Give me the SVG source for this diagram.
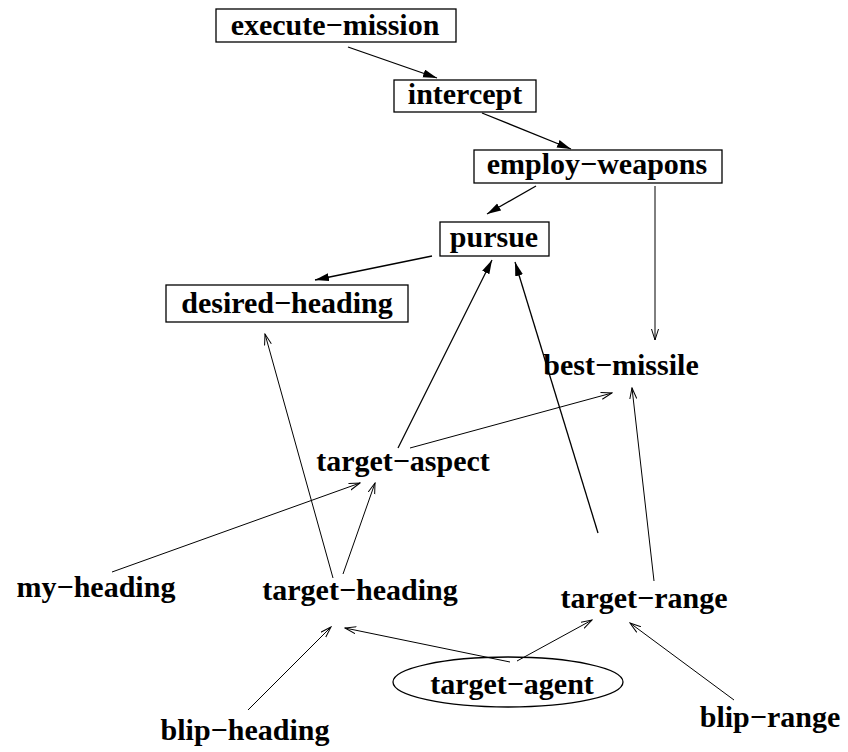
<svg xmlns="http://www.w3.org/2000/svg" width="848" height="752" viewBox="0 0 848 752">
<style>
text{font-family:"Liberation Serif","Times New Roman",serif;font-weight:bold;font-size:30px;text-anchor:middle;fill:#000}
.box{fill:#fff;stroke:#000;stroke-width:1.3}
.f{stroke:#000;stroke-width:1.3;fill:none;marker-end:url(#fa)}
.o{stroke:#000;stroke-width:1;fill:none;marker-end:url(#oa)}
</style>
<defs>
<marker id="fa" markerUnits="userSpaceOnUse" markerWidth="16" markerHeight="10" refX="14" refY="4" orient="auto">
<path d="M0,0 L14,4 L0,8 z" fill="#000"/>
</marker>
<marker id="oa" markerUnits="userSpaceOnUse" markerWidth="12" markerHeight="10" refX="11" refY="4" orient="auto">
<path d="M0,0.5 L11,4 L0,7.5" fill="none" stroke="#000" stroke-width="1"/>
</marker>
</defs>
<rect width="848" height="752" fill="#fff"/>
<g id="connectors">
<line class="f" x1="348" y1="47" x2="437" y2="78"/>
<line class="f" x1="482" y1="113" x2="571" y2="149"/>
<line class="f" x1="536" y1="186" x2="487" y2="214"/>
<line class="f" x1="432" y1="256" x2="315" y2="280"/>
<line class="o" x1="655" y1="186" x2="655" y2="340"/>
<line class="f" x1="398" y1="448" x2="492" y2="260"/>
<line class="f" x1="598" y1="533" x2="515" y2="262"/>
<line class="o" x1="333" y1="578" x2="265" y2="334"/>
<line class="o" x1="410" y1="448" x2="612" y2="393"/>
<line class="o" x1="112" y1="572" x2="360" y2="483"/>
<line class="o" x1="343" y1="574" x2="375" y2="483"/>
<line class="o" x1="654" y1="581" x2="632" y2="388"/>
<line class="o" x1="248" y1="710" x2="331" y2="627"/>
<line class="o" x1="510" y1="662" x2="345" y2="628"/>
<line class="o" x1="517" y1="661" x2="592" y2="620"/>
<line class="o" x1="734" y1="700" x2="630" y2="623"/>
</g>
<g id="execute-mission"><rect class="box" x="216" y="9" width="240" height="33"/><text x="335" y="35">execute−mission</text></g>
<g id="intercept"><rect class="box" x="394" y="80" width="142" height="32"/><text x="465" y="104">intercept</text></g>
<g id="employ-weapons"><rect class="box" x="474" y="150" width="248" height="33"/><text x="597" y="174">employ−weapons</text></g>
<g id="pursue"><rect class="box" x="440" y="222" width="109" height="34"/><text x="494" y="247">pursue</text></g>
<g id="desired-heading"><rect class="box" x="166" y="285" width="242" height="37"/><text x="287" y="313">desired−heading</text></g>
<g id="best-missile"><text x="621" y="375">best−missile</text></g>
<g id="target-aspect"><text x="403" y="471">target−aspect</text></g>
<g id="my-heading"><text x="96" y="597">my−heading</text></g>
<g id="target-heading"><text x="360" y="600">target−heading</text></g>
<g id="target-range"><text x="644" y="608">target−range</text></g>
<g id="target-agent"><ellipse cx="508" cy="682" rx="115" ry="25" fill="none" stroke="#000" stroke-width="1.3"/><text x="512" y="694">target−agent</text></g>
<g id="blip-heading"><text x="245" y="740">blip−heading</text></g>
<g id="blip-range"><text x="770" y="727">blip−range</text></g>
</svg>
